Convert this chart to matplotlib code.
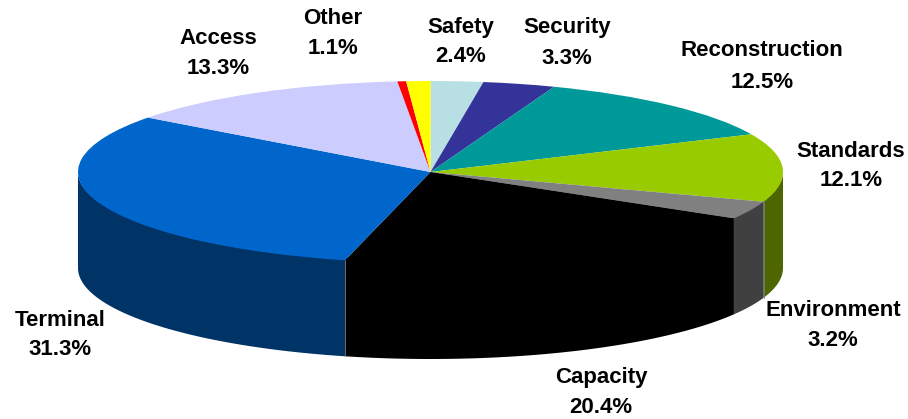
import numpy as np
import matplotlib
matplotlib.use('Agg')
import matplotlib.pyplot as plt

W, H = 908, 419

# data, clockwise from 12 o'clock
names = ['Safety', 'Security', 'Reconstruction', 'Standards', 'Environment',
         'Capacity', 'Terminal', 'Access', '', 'Other']
shares = [2.4, 3.3, 12.5, 12.1, 3.2, 20.4, 31.3, 13.3, 0.4, 1.1]
top_colors = ['#B8DFE3', '#333399', '#009999', '#99CC00', '#808080',
              '#000000', '#0066CC', '#CCCCFF', '#FF0000', '#FFFF00']
side_colors = ['#5C7072', '#1A1A4D', '#004D4D', '#4D6600', '#404040',
               '#000000', '#003366', '#66667F', '#800000', '#808000']
seam_after = ['Standards', 'Capacity']

# label centres in pixels (name line, percent line)
label_pos = [(461, 27, 56), (567, 27, 59), (762, 51, 82), (851, 151, 180),
             (833, 310, 340), (601, 377, 407), (60, 320, 349),
             (218, 38, 68), None, (333, 19, 49)]

# ellipse geometry in pixels
CX, CY = 430.5, 172
RX, RY = 352.5, 91
DEPTH = 96

fig = plt.figure(figsize=(W / 100, H / 100), dpi=100)
ax = fig.add_axes([0, 0, 1, 1])

# top face
wedges, _ = ax.pie(shares, colors=top_colors, startangle=90, counterclock=False,
                   radius=1, wedgeprops={'linewidth': 0, 'zorder': 3})

# side wall, only the front half of the ellipse is visible
depth = DEPTH / RY
edges = 90 - 3.6 * np.concatenate([[0], np.cumsum(shares)])
for name, a0, a1, col in zip(names, edges[:-1], edges[1:], side_colors):
    lo = max(a1, -180)
    hi = min(a0, 0)
    if lo >= hi:
        continue
    t = np.radians(np.linspace(lo, hi, 60))
    xs = np.cos(t)
    ys = np.sin(t)
    # top of the wall runs a bit under the face so no seam shows through
    ax.fill(np.r_[xs, xs[::-1]], np.r_[ys * 0.97, ys[::-1] - depth], color=col, lw=0, zorder=1)
    if name in seam_after:
        x = np.cos(np.radians(a1))
        y = np.sin(np.radians(a1))
        ax.plot([x, x], [y, y - depth], color='#7F7F7F', lw=0.6, zorder=2)

ax.set_aspect('auto')
ax.set_xlim(-CX / RX, (W - CX) / RX)
ax.set_ylim((CY - H) / RY, CY / RY)
ax.axis('off')

for name, share, pos in zip(names, shares, label_pos):
    if pos is None:
        continue
    x, y1, y2 = pos
    for txt, yy in ((name, y1), (f'{share:.1f}%', y2)):
        fig.text(x / W, 1 - yy / H, txt, ha='center', va='center', fontsize=16,
                 fontweight='bold', family='Liberation Sans', color='black')

fig.savefig('out.png', dpi=100)
